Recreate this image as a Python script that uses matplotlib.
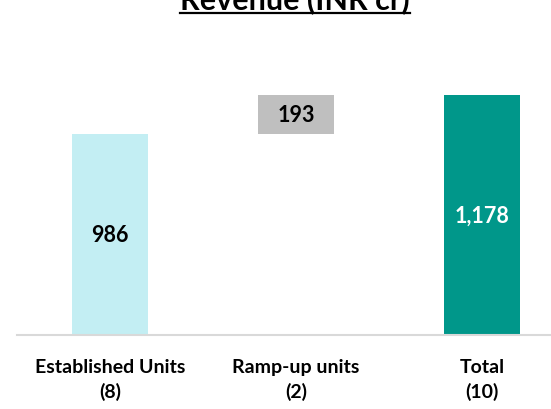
import matplotlib
matplotlib.use("Agg")
import matplotlib.pyplot as plt
from matplotlib.lines import Line2D

# ---- data ----
categories = ["Established Units\n(8)", "Ramp-up units\n(2)", "Total\n(10)"]
values = [986, 193, 1178]
bases = [0, 986, 0]
value_labels = ["986", "193", "1,178"]
title = "Revenue (INR cr)"

colors = ["#C3EEF3", "#BFBFBF", "#00978A"]
label_colors = ["#000000", "#000000", "#FFFFFF"]

W, H, DPI = 551, 410, 100
fig = plt.figure(figsize=(W / DPI, H / DPI), dpi=DPI)
FONT = "Lato"

ax_left = 17 / W
ax_bottom = (H - 335.7) / H
ax_height = 280.7 / H
ax = fig.add_axes([ax_left, ax_bottom, 1 - ax_left, ax_height])

x = list(range(len(categories)))
bars = ax.bar(x, values, bottom=bases, width=0.41, color=colors, edgecolor="none", zorder=2)

for xi, v, b, lab, lc in zip(x, values, bases, value_labels, label_colors):
    ax.text(xi, b + v / 2, lab, ha="center", va="center", fontsize=15.5,
            fontweight="bold", color=lc, family=FONT, zorder=3)

ax.set_xlim(-0.5, -0.5 + 534 / 186)
ax.set_ylim(0, 1378)
ax.set_xticks(x)
ax.set_xticklabels(categories, fontsize=14, fontweight="bold", family=FONT,
                   linespacing=1.45)
ax.tick_params(axis="x", length=0, pad=17)
ax.set_yticks([])
for s in ["top", "left", "right"]:
    ax.spines[s].set_visible(False)
ax.spines["bottom"].set_color("#D9D9D9")
ax.spines["bottom"].set_linewidth(1.5)

t = fig.text(295 / W, 1 - 9.5 / H, title, ha="center", va="baseline",
             fontsize=22, fontweight="bold", family=FONT)

fig.canvas.draw()
r = fig.canvas.get_renderer()
bb = t.get_window_extent(renderer=r)
uy = H - 13.5
fig.add_artist(Line2D([bb.x0 / W, bb.x1 / W], [uy / H, uy / H],
                      transform=fig.transFigure, color="black", lw=1.6))

fig.savefig("out.png", dpi=DPI)
